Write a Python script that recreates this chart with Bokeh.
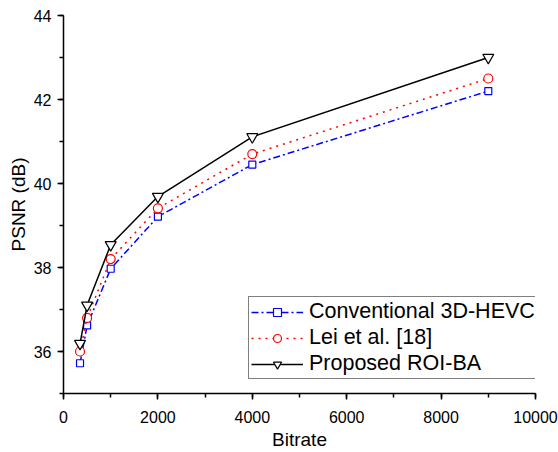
from bokeh.plotting import figure
from bokeh.models import Range1d, SingleIntervalTicker, Legend, LegendItem
from bokeh.embed import file_html
from bokeh.resources import INLINE

bitrate = [350, 500, 1000, 2000, 4000, 9000]
conv = [35.72, 36.62, 37.97, 39.21, 40.45, 42.2]
lei = [36.0, 36.8, 38.2, 39.41, 40.7, 42.5]
prop = [36.19, 37.1, 38.54, 39.69, 41.11, 43.0]
names = ["Conventional 3D-HEVC", "Lei et al. [18]", "Proposed ROI-BA"]

FONT = "Liberation Sans"

p = figure(width=558, height=452, output_backend="svg", toolbar_location=None,
           x_range=Range1d(0, 10000), y_range=Range1d(35, 44),
           min_border_left=63, min_border_top=15, min_border_right=23, min_border_bottom=58,
           x_axis_label="Bitrate", y_axis_label="PSNR (dB)")
p.outline_line_color = None
p.xgrid.visible = False
p.ygrid.visible = False
p.background_fill_color = "white"
p.border_fill_color = "white"

p.xaxis.ticker = SingleIntervalTicker(interval=2000, num_minor_ticks=2)
p.yaxis.ticker = SingleIntervalTicker(interval=2, num_minor_ticks=2)

for ax in (p.xaxis[0], p.yaxis[0]):
    ax.axis_line_width = 1.5
    ax.axis_line_color = "black"
    ax.major_tick_line_width = 1.5
    ax.minor_tick_line_width = 1.5
    ax.major_tick_in = 0
    ax.major_tick_out = 6
    ax.minor_tick_in = 0
    ax.minor_tick_out = 4
    ax.major_label_text_font = FONT
    ax.major_label_text_font_size = "16px"
    ax.major_label_text_color = "black"
    ax.axis_label_text_font = FONT
    ax.axis_label_text_font_size = "19px"
    ax.axis_label_text_font_style = "normal"
    ax.axis_label_text_color = "black"

p.xaxis.major_label_standoff = 11
p.xaxis.axis_label_standoff = 3
p.yaxis.major_label_standoff = 6
p.yaxis.axis_label_standoff = 2

l1 = p.line(bitrate, conv, line_color="#0000FF", line_width=1.5, line_dash="7 3 2 3")
s1 = p.scatter(bitrate, conv, marker="square", size=7, line_color="#0000FF",
               fill_color="white", line_width=1.2)
l2 = p.line(bitrate, lei, line_color="#FF0000", line_width=1.5, line_dash="2 5")
s2 = p.scatter(bitrate, lei, marker="circle", size=9, line_color="#FF0000",
               fill_color="white", line_width=1.2)
l3 = p.line(bitrate, prop, line_color="black", line_width=1.5)
s3 = p.scatter(bitrate, prop, marker="inverted_triangle", size=11, line_color="black",
               fill_color="white", line_width=1.2)

legend = Legend(items=[
    LegendItem(label=names[0], renderers=[l1, s1]),
    LegendItem(label=names[1], renderers=[l2, s2]),
    LegendItem(label=names[2], renderers=[l3, s3]),
], location=(185, 14))
legend.label_text_font = FONT
legend.label_text_font_size = "21.5px"
legend.label_text_color = "black"
legend.glyph_width = 52
legend.glyph_height = 20
legend.label_height = 20
legend.label_standoff = 6
legend.spacing = 1
legend.padding = 2
legend.margin = 0
legend.border_line_color = "black"
legend.border_line_width = 1
legend.background_fill_color = "white"
legend.background_fill_alpha = 1
p.add_layout(legend, "center")

open("out.html", "w").write(file_html(p, INLINE))
